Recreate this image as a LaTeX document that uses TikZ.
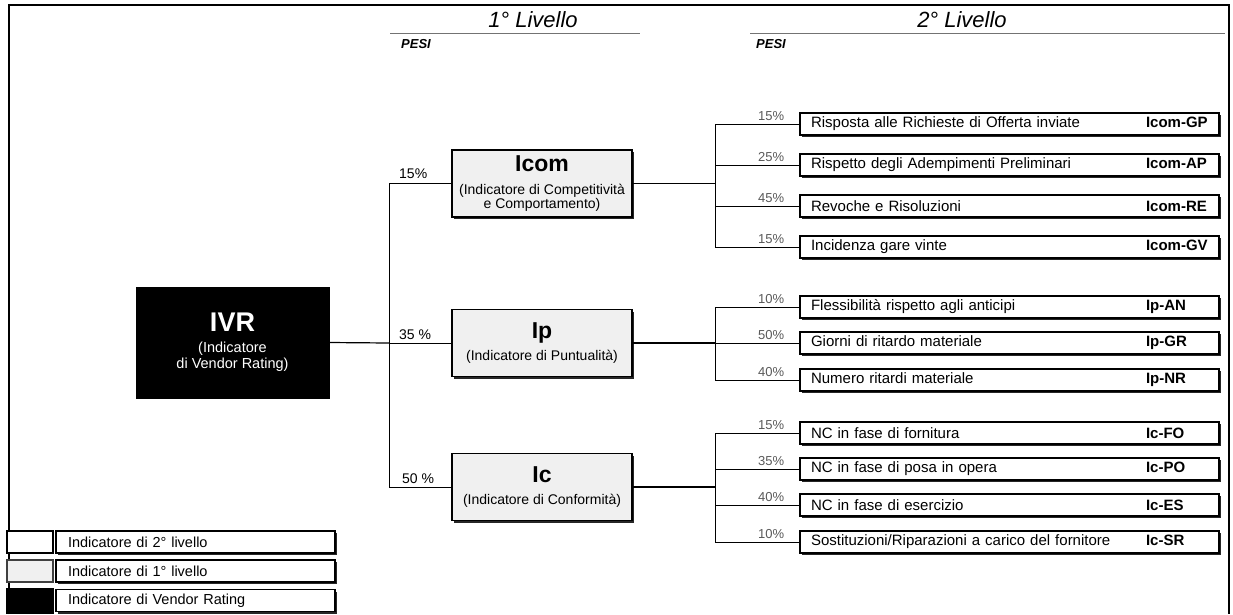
\documentclass[tikz,border=0pt]{standalone}
\usepackage{fontspec}
\setmainfont{Liberation Sans}
\usetikzlibrary{shadows}

\tikzset{
  ombra/.style={drop shadow={shadow xshift=2.2pt, shadow yshift=-2.2pt, fill=black!85, opacity=1}},
  ivrbox/.style={draw, fill=black, text=white, minimum width=193pt, minimum height=111pt, inner sep=0pt, align=center, font=\fontsize{14.5}{16}\selectfont},
  lvlone/.style={draw, line width=1.1pt, fill=black!6, ombra, minimum width=180pt, minimum height=67pt, inner sep=0pt, align=center, font=\fontsize{14}{13}\selectfont},
  lvltwo/.style={draw, line width=1.1pt, fill=white, ombra, minimum height=22pt, inner xsep=11pt, inner ysep=0pt, text width=397pt, align=left, font=\fontsize{15}{17}\selectfont},
  pct/.style={anchor=south east, xshift=-15pt, yshift=3pt, inner sep=0pt, text=black!65, font=\fontsize{13}{13}\selectfont},
  pctone/.style={anchor=south west, inner sep=0pt, font=\fontsize{14}{14}\selectfont},
  livello/.style={font=\fontsize{22}{22}\selectfont\itshape},
  pesi/.style={anchor=west, inner sep=0pt, font=\fontsize{13}{13}\selectfont\bfseries\itshape},
  legsw/.style={draw, line width=1.1pt, minimum width=46pt, minimum height=22pt, inner sep=0pt},
  leglab/.style={draw, line width=1.1pt, fill=white, ombra, minimum height=22pt, inner xsep=12pt, inner ysep=0pt, text width=255pt, align=left, font=\fontsize{14.5}{16}\selectfont}
}

\begin{document}
\begin{tikzpicture}[x=1pt,y=-1pt]
\useasboundingbox (0,0) rectangle (1233,614);

% cornice
\draw[line width=1.2pt] (9,614)--(9,5)--(1229,5)--(1229,614);

% intestazioni
\node[livello] (liv1) at (533,20) {1° Livello};
\node[livello] (liv2) at (962,20) {2° Livello};
\draw[black!55, line width=0.8pt] (390,33)--(640,33);
\draw[black!55, line width=0.8pt] (750,33)--(1225,33);
\node[pesi] (pesi1) at (401,44) {PESI};
\node[pesi] (pesi2) at (756,44) {PESI};

% indicatori
\node[ivrbox] (ivr) at (232.5,342.5) {{\fontsize{27}{27}\selectfont\bfseries IVR}\\[5pt](Indicatore\\di Vendor Rating)};
\node[lvlone] (icom) at (542,183.5) {{\fontsize{23}{23}\selectfont\bfseries Icom}\\[10pt](Indicatore di Competitività\\e Comportamento)};
\node[lvlone] (ip) at (542,343) {{\fontsize{23}{23}\selectfont\bfseries Ip}\\[5pt](Indicatore di Puntualità)};
\node[lvlone] (ic) at (542,487) {{\fontsize{23}{23}\selectfont\bfseries Ic}\\[9pt](Indicatore di Conformità)};

\coordinate (bus) at (389,343);
\draw[line width=1.2pt] (ivr.east)--(bus);
\draw[line width=1pt] (bus) |- (icom.west);
\draw[line width=1pt] (bus) -- (ip.west);
\draw[line width=1pt] (bus) |- (ic.west);
\node[pctone] (w15) at (399,179) {15\%};
\node[pctone] (w35) at (399,340) {35 \%};
\node[pctone] (w50) at (402,484) {50 \%};

% secondo livello
\node[lvltwo] (gp) at (1009.5,124) {Risposta alle Richieste di Offerta inviate\hfill\makebox[62pt][l]{\bfseries Icom-GP}};
\node[lvltwo] (ap) at (1009.5,165) {Rispetto degli Adempimenti Preliminari\hfill\makebox[62pt][l]{\bfseries Icom-AP}};
\node[lvltwo] (re) at (1009.5,206) {Revoche e Risoluzioni\hfill\makebox[62pt][l]{\bfseries Icom-RE}};
\node[lvltwo] (gv) at (1009.5,247) {Incidenza gare vinte\hfill\makebox[62pt][l]{\bfseries Icom-GV}};

\node[lvltwo] (an) at (1009.5,307) {Flessibilità rispetto agli anticipi\hfill\makebox[62pt][l]{\bfseries Ip-AN}};
\node[lvltwo] (gr) at (1009.5,343) {Giorni di ritardo materiale\hfill\makebox[62pt][l]{\bfseries Ip-GR}};
\node[lvltwo] (nr) at (1009.5,380) {Numero ritardi materiale\hfill\makebox[62pt][l]{\bfseries Ip-NR}};

\node[lvltwo] (fo) at (1009.5,433) {NC in fase di fornitura\hfill\makebox[62pt][l]{\bfseries Ic-FO}};
\node[lvltwo] (po) at (1009.5,469) {NC in fase di posa in opera\hfill\makebox[62pt][l]{\bfseries Ic-PO}};
\node[lvltwo] (es) at (1009.5,505) {NC in fase di esercizio\hfill\makebox[62pt][l]{\bfseries Ic-ES}};
\node[lvltwo] (sr) at (1009.5,542) {Sostituzioni/Riparazioni a carico del fornitore\hfill\makebox[62pt][l]{\bfseries Ic-SR}};

\coordinate (bcom) at (715,183.5);
\coordinate (bp) at (715,343);
\coordinate (bc) at (715,487);
\draw[line width=1.2pt] (icom.east)--(bcom);
\draw[line width=1.2pt] (ip.east)--(bp);
\draw[line width=1.2pt] (ic.east)--(bc);

\draw (bcom) |- (gp.west) node[pct] {15\%};
\draw (bcom) |- (ap.west) node[pct] {25\%};
\draw (bcom) |- (re.west) node[pct] {45\%};
\draw (bcom) |- (gv.west) node[pct] {15\%};
\draw (bp) |- (an.west) node[pct] {10\%};
\draw (bp) -- (gr.west) node[pct] {50\%};
\draw (bp) |- (nr.west) node[pct] {40\%};
\draw (bc) |- (fo.west) node[pct] {15\%};
\draw (bc) |- (po.west) node[pct] {35\%};
\draw (bc) |- (es.west) node[pct] {40\%};
\draw (bc) |- (sr.west) node[pct] {10\%};

% legenda
\node[legsw, fill=white] (sw2) at (30,542) {};
\node[legsw, fill=black!6, draw=black!75, line width=1.8pt] (sw1) at (30,571) {};
\node[legsw, fill=black, minimum height=25pt] (swv) at (30,601) {};
\node[leglab] (lg2) at (195.5,542) {Indicatore di 2° livello};
\node[leglab] (lg1) at (195.5,571) {Indicatore di 1° livello};
\node[leglab] (lgv) at (195.5,600.5) {Indicatore di Vendor Rating};

\end{tikzpicture}
\end{document}
